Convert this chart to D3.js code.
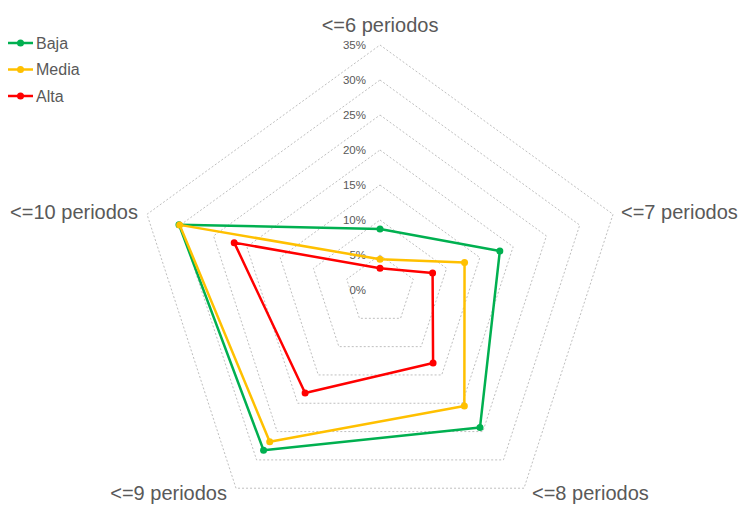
<!DOCTYPE html>
<html>
<head>
<meta charset="utf-8">
<script src="https://cdn.jsdelivr.net/npm/d3@7"></script>
<style>
  html, body { margin: 0; padding: 0; background: #fff; }
  svg { display: block; font-family: "Liberation Sans", Arial, sans-serif; }
</style>
</head>
<body>
<svg id="chart" width="740" height="507"></svg>
<script>
// Share of cases by number of periods, per level
const categories = ["<=6 periodos", "<=7 periodos", "<=8 periodos", "<=9 periodos", "<=10 periodos"];
const seriesNames = ["Baja", "Media", "Alta"];
const seriesColors = ["#00b050", "#ffc000", "#ff0000"];
const baja  = [0.087, 0.180, 0.243, 0.283, 0.302];
const media = [0.044, 0.127, 0.205, 0.268, 0.301];
const alta  = [0.031, 0.079, 0.129, 0.182, 0.219];
const tickValues = [0, 0.05, 0.10, 0.15, 0.20, 0.25, 0.30, 0.35];

const seriesValues = [baja, media, alta];

const svg = d3.select("#chart");
const cx = 380, cy = 290, outerR = 245;
const textColor = "#595959";

const r = d3.scaleLinear().domain([0, 0.35]).range([0, outerR]);
const angle = d3.scaleLinear().domain([0, categories.length]).range([0, 2 * Math.PI]);

const g = svg.append("g").attr("transform", `translate(${cx},${cy})`);

// polar -> cartesian (angle measured clockwise from 12 o'clock)
const px = (a, rad) => Math.sin(a) * rad;
const py = (a, rad) => -Math.cos(a) * rad;

// Dotted pentagon gridlines
const ring = d3.lineRadial()
  .angle((d, i) => angle(i))
  .radius(d => r(d))
  .curve(d3.curveLinearClosed);

g.append("g").selectAll("path")
  .data(tickValues.filter(t => t > 0))
  .join("path")
  .attr("d", t => ring(categories.map(() => t)))
  .attr("fill", "none")
  .attr("stroke", "#bfbfbf")
  .attr("stroke-width", 1)
  .attr("stroke-dasharray", "2,2");

// Radial value labels along the first axis
const fmt = d3.format(".0%");
g.append("g").selectAll("text")
  .data(tickValues)
  .join("text")
  .attr("x", -14)
  .attr("y", t => -r(t))
  .attr("dy", "0.35em")
  .attr("text-anchor", "end")
  .attr("font-size", 11.5)
  .attr("fill", textColor)
  .text(t => fmt(t));

// Category labels around the outer ring
g.append("g").selectAll("text")
  .data(categories)
  .join("text")
  .each(function (d, i) {
    const a = angle(i);
    const x = px(a, outerR), y = py(a, outerR);
    const s = Math.sin(a), c = Math.cos(a);
    let anchor = "middle", dx = 0, dy;
    if (s > 0.01) { anchor = "start"; dx = 8; }
    else if (s < -0.01) { anchor = "end"; dx = -9; }
    if (c > 0.9) dy = -13;
    else if (c > 0) dy = 5;
    else dy = 12;
    d3.select(this)
      .attr("x", x + dx)
      .attr("y", y + dy)
      .attr("text-anchor", anchor);
  })
  .attr("font-size", 20)
  .attr("fill", textColor)
  .text(d => d);

// Series polygons with markers
const line = d3.lineRadial()
  .angle((d, i) => angle(i))
  .radius(d => r(d))
  .curve(d3.curveLinearClosed);

seriesValues.forEach((vals, k) => {
  const sg = g.append("g");
  sg.append("path")
    .attr("d", line(vals))
    .attr("fill", "none")
    .attr("stroke", seriesColors[k])
    .attr("stroke-width", 2.5)
    .attr("stroke-linejoin", "round");
  sg.selectAll("circle")
    .data(vals)
    .join("circle")
    .attr("cx", (d, i) => px(angle(i), r(d)))
    .attr("cy", (d, i) => py(angle(i), r(d)))
    .attr("r", 3.5)
    .attr("fill", seriesColors[k]);
});

// Legend
const legend = svg.append("g").attr("transform", "translate(8,43)");
const item = legend.selectAll("g")
  .data(seriesNames)
  .join("g")
  .attr("transform", (d, i) => `translate(0,${i * 26.5})`);
item.append("line")
  .attr("x1", 0).attr("x2", 25).attr("y1", 0).attr("y2", 0)
  .attr("stroke", (d, i) => seriesColors[i])
  .attr("stroke-width", 2.5);
item.append("circle")
  .attr("cx", 12.5).attr("cy", 0).attr("r", 3.5)
  .attr("fill", (d, i) => seriesColors[i]);
item.append("text")
  .attr("x", 28).attr("y", 0).attr("dy", "0.35em")
  .attr("font-size", 16)
  .attr("fill", textColor)
  .text(d => d);
</script>
</body>
</html>
